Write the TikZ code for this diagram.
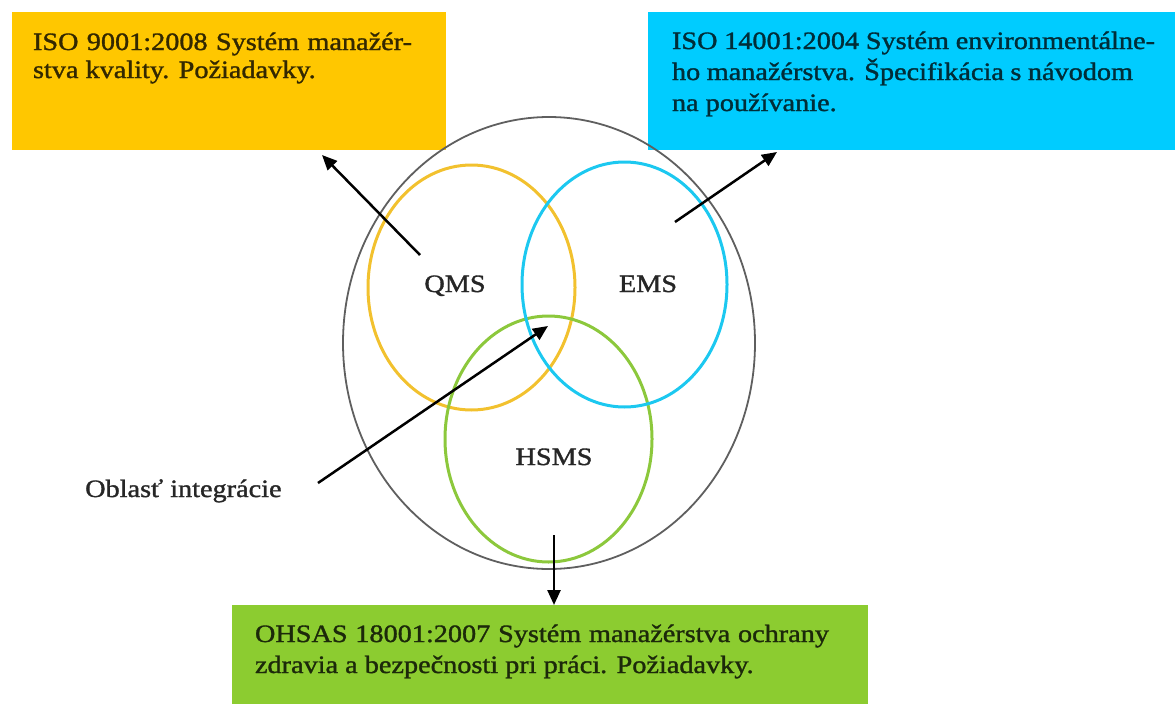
\documentclass[tikz,border=0pt]{standalone}
\usepackage{fontspec}
\setmainfont{Liberation Serif}[FakeStretch=1.13]
\newfontfamily\heavyserif{Liberation Serif}[FakeStretch=1.13,FakeBold=1.3]
\usetikzlibrary{arrows.meta,shapes.geometric}

\definecolor{qmsbox}{RGB}{255,199,0}
\definecolor{emsbox}{RGB}{0,204,255}
\definecolor{hsmsbox}{RGB}{140,204,48}
\definecolor{qmsline}{RGB}{242,193,46}
\definecolor{emsline}{RGB}{28,200,240}
\definecolor{hsmsline}{RGB}{140,200,60}
\definecolor{outerline}{RGB}{95,95,95}

% one justified line of a given width
\newcommand{\jline}[2]{\hbox to #1pt{#2}}

\begin{document}
\begin{tikzpicture}[x=1pt,y=-1pt,
  stdbox/.style={draw=none,rectangle,anchor=north west,inner sep=0pt,outer sep=0pt},
  boxtext/.style={anchor=base west,inner sep=0pt,outer sep=0pt,font=\heavyserif\fontsize{25}{28}\selectfont},
  ring/.style={ellipse,inner sep=0pt,outer sep=0pt,line width=3pt},
  label/.style={anchor=base,inner sep=0pt,font=\heavyserif\fontsize{25}{28}\selectfont,text=black!85},
  pointer/.style={line width=2.5pt,-{Triangle[length=15pt,width=13pt]}}
]
\useasboundingbox (0,0) rectangle (1175,704);

% standard boxes
\node[stdbox,fill=qmsbox,minimum width=434pt,minimum height=138pt] (qbox) at (12,12) {};
\node[stdbox,fill=emsbox,minimum width=527pt,minimum height=138pt] (ebox) at (648,12) {};
\node[stdbox,fill=hsmsbox,minimum width=636pt,minimum height=99pt] (hbox) at (232,605) {};

\node[boxtext,text=black!80!qmsbox] (qtext) at (33,50)
  {\vtop{\baselineskip=28pt
    \jline{379}{ISO 9001:2008 Systém manažér-}
    \hbox{stva kvality. Požiadavky.}}};
\node[boxtext,text=black!78!emsbox] (etext) at (672,49)
  {\vtop{\baselineskip=31pt
    \jline{483}{ISO 14001:2004 Systém environmentálne-}
    \jline{461}{ho manažérstva. Špecifikácia s návodom}
    \hbox{na používanie.}}};
\node[boxtext,text=black!80!hsmsbox] (htext) at (255,642)
  {\vtop{\baselineskip=31pt
    \jline{574}{OHSAS 18001:2007 Systém manažérstva ochrany}
    \hbox{zdravia a bezpečnosti pri práci. Požiadavky.}}};

% management system sets
\node[ellipse,draw=outerline,line width=1.8pt,inner sep=0pt,outer sep=0pt,
      minimum width=412pt,minimum height=452pt] (outer) at (549,343) {};
\node[ring,draw=qmsline,minimum width=207pt,minimum height=245pt] (qring) at (471.5,287.5) {};
\node[ring,draw=hsmsline,minimum width=207pt,minimum height=246pt] (hring) at (548.5,439) {};
\node[ring,draw=emsline,minimum width=205pt,minimum height=245pt] (ering) at (624.5,284.5) {};

\node[label] (qms) at (455,292) {QMS};
\node[label] (ems) at (648,292) {EMS};
\node[label] (hsms) at (554,465) {HSMS};
\node[label,anchor=base west] (integ) at (85,497) {Oblasť integrácie};

% arrow end points
\coordinate (qfrom) at (420,255);
\coordinate (qto) at (322,155);
\coordinate (efrom) at (675,222);
\coordinate (eto) at (777,152);
\coordinate (ifrom) at (318,483);
\coordinate (ito) at (548,326);
\coordinate (hfrom) at (554,535);
\coordinate (hto) at (hbox.north -| hfrom);

\draw[pointer] (qfrom) -- (qto);
\draw[pointer] (efrom) -- (eto);
\draw[pointer] (ifrom) -- (ito);
\draw[pointer] (hfrom) -- (hto);
\end{tikzpicture}
\end{document}
